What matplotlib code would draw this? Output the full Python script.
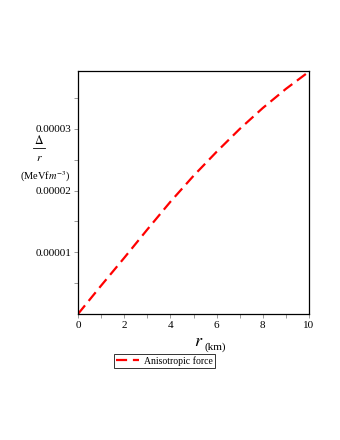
import matplotlib
matplotlib.use("Agg")
import matplotlib.pyplot as plt
from matplotlib.ticker import MultipleLocator, FixedLocator
from matplotlib.lines import Line2D

r_km = [0, 1, 2, 3, 4, 5, 6, 7, 8, 9, 10]
aniso = [0.0, 0.46e-5, 0.91e-5, 1.37e-5, 1.82e-5, 2.24e-5, 2.63e-5, 3.0e-5, 3.34e-5, 3.65e-5, 3.93e-5]
xticks = [0, 2, 4, 6, 8, 10]
yticks = [1e-5, 2e-5, 3e-5]
ytick_labels = ["0.00001", "0.00002", "0.00003"]
legend_label = "Anisotropic force"

plt.rcParams['font.family'] = ['Liberation Serif', 'DejaVu Serif']
plt.rcParams['mathtext.fontset'] = 'stix'

fig = plt.figure(figsize=(3.4, 4.4), dpi=100)
ax = fig.add_axes([78/340, 1-314/440, (309-78)/340, (314-71)/440])
line, = ax.plot(r_km, aniso, color='#ff0000', lw=1.6, dashes=(5, 2.6))
ax.set_xlim(0, 10)
ax.set_ylim(0, 3.94e-5)
ax.set_xticks(xticks)
ax.set_xticklabels([str(t) for t in xticks])
ax.set_yticks(yticks)
ax.set_yticklabels(ytick_labels)
ax.xaxis.set_minor_locator(MultipleLocator(1))
ax.yaxis.set_minor_locator(FixedLocator([0.5e-5, 1.5e-5, 2.5e-5, 3.5e-5]))
ax.tick_params(which='both', direction='out', length=3, width=0.6, color='#888888',
               labelsize=8, pad=2)
for s in ax.spines.values():
    s.set_linewidth(0.9)
    s.set_color('black')

# y label (fraction)
fig.text(39/340, 1-141/440, r'$\Delta$', ha='center', va='center', fontsize=8.5)
fig.add_artist(Line2D([33/340, 45/340], [1-148/440, 1-148/440], color='black', lw=0.6))
fig.text(39/340, 1-158/440, r'$r$', ha='center', va='center', fontsize=8.5)
fig.text(45/340, 1-177/440, r'(MeVf$m^{-3}$)', ha='center', va='center', fontsize=7.5)

# x label
fig.text(199/340, 1-342/440, r'$r$', ha='center', va='center', fontsize=13)
fig.text(215/340, 1-347/440, '(km)', ha='center', va='center', fontsize=8)

# legend
leg = fig.legend([line], [legend_label], loc='center', bbox_to_anchor=(164.5/340, 1-361/440),
                 frameon=True, fancybox=False, fontsize=7, handlelength=2.4,
                 borderpad=0.25, handletextpad=0.5, borderaxespad=0)
leg.get_frame().set_edgecolor('black')
leg.get_frame().set_linewidth(0.7)

fig.savefig('out.png', dpi=100)
